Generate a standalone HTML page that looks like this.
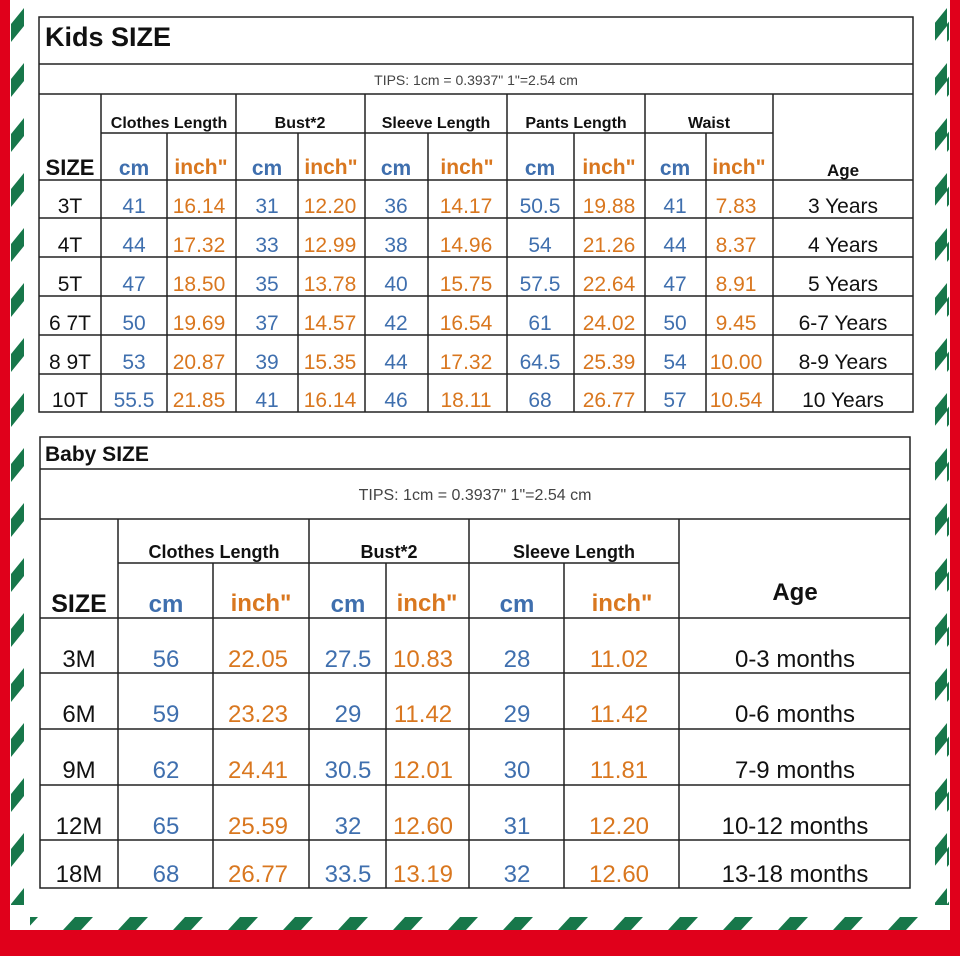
<!DOCTYPE html>
<html><head><meta charset="utf-8"><style>
html,body{margin:0;padding:0;background:#fff;}
svg{display:block;}
text{font-family:"Liberation Sans","DejaVu Sans",sans-serif;}
.t{font-weight:bold;fill:#111;}
.b{fill:#3f6fae;}
.o{fill:#d9771f;}
.k{fill:#111;}
</style></head><body>
<svg width="960" height="956" viewBox="0 0 960 956" xmlns="http://www.w3.org/2000/svg">
<defs>
<pattern id="pl" patternUnits="userSpaceOnUse" x="11" y="0" width="13" height="55">
<polygon points="0,24 13,8 13,26 0,42" fill="#17774a"/>
</pattern>
<pattern id="pb" patternUnits="userSpaceOnUse" x="0" y="917" width="55" height="13">
<polygon points="8,13 26,13 38,0 20,0" fill="#17774a"/>
</pattern>
</defs>
<rect x="0" y="0" width="960" height="956" fill="#fff"/>
<rect x="11" y="0" width="13" height="905" fill="url(#pl)"/>
<rect x="935" y="0" width="14" height="905" fill="url(#pl)"/>
<rect x="30" y="917" width="905" height="13" fill="url(#pb)"/>
<rect x="0" y="0" width="10" height="956" fill="#e0001b"/>
<rect x="950" y="0" width="10" height="956" fill="#e0001b"/>
<rect x="0" y="930" width="960" height="26" fill="#e0001b"/>

<!-- Kids table -->
<g stroke="#222" stroke-width="1.5" fill="none">
<rect x="39" y="17" width="874" height="395"/>
<line x1="39" y1="64" x2="913" y2="64"/>
<line x1="39" y1="94" x2="913" y2="94"/>
<line x1="101" y1="133" x2="773" y2="133"/>
<line x1="39" y1="180" x2="913" y2="180"/>
<line x1="39" y1="218" x2="913" y2="218"/>
<line x1="39" y1="257" x2="913" y2="257"/>
<line x1="39" y1="296" x2="913" y2="296"/>
<line x1="39" y1="335" x2="913" y2="335"/>
<line x1="39" y1="374" x2="913" y2="374"/>
<line x1="101" y1="94" x2="101" y2="412"/>
<line x1="236" y1="94" x2="236" y2="412"/>
<line x1="365" y1="94" x2="365" y2="412"/>
<line x1="507" y1="94" x2="507" y2="412"/>
<line x1="645" y1="94" x2="645" y2="412"/>
<line x1="773" y1="94" x2="773" y2="412"/>
<line x1="167" y1="133" x2="167" y2="412"/>
<line x1="298" y1="133" x2="298" y2="412"/>
<line x1="428" y1="133" x2="428" y2="412"/>
<line x1="574" y1="133" x2="574" y2="412"/>
<line x1="706" y1="133" x2="706" y2="412"/>
</g>
<text x="45" y="46" class="t" font-size="27">Kids SIZE</text>
<text x="476" y="85" font-size="14" fill="#444" text-anchor="middle">TIPS: 1cm = 0.3937"    1"=2.54 cm</text>
<g class="t" font-size="16" text-anchor="middle">
<text x="169" y="128">Clothes Length</text>
<text x="300" y="128">Bust*2</text>
<text x="436" y="128">Sleeve Length</text>
<text x="576" y="128">Pants Length</text>
<text x="709" y="128">Waist</text>
<text x="843" y="176" font-size="17">Age</text>
<text x="70" y="175" font-size="22">SIZE</text>
</g>
<g font-size="21" font-weight="bold" text-anchor="middle">
<text x="134" y="175" class="b">cm</text><text x="201" y="174" class="o">inch"</text>
<text x="267" y="175" class="b">cm</text><text x="331" y="174" class="o">inch"</text>
<text x="396" y="175" class="b">cm</text><text x="467" y="174" class="o">inch"</text>
<text x="540" y="175" class="b">cm</text><text x="609" y="174" class="o">inch"</text>
<text x="675" y="175" class="b">cm</text><text x="739" y="174" class="o">inch"</text>
</g>
<g font-size="21" text-anchor="middle">
<g class="k"><text x="70" y="213">3T</text><text x="70" y="252">4T</text><text x="70" y="291">5T</text><text x="70" y="330">6 7T</text><text x="70" y="369">8 9T</text><text x="70" y="407">10T</text>
<text x="843" y="213">3 Years</text><text x="843" y="252">4 Years</text><text x="843" y="291">5 Years</text><text x="843" y="330">6-7 Years</text><text x="843" y="369">8-9 Years</text><text x="843" y="407">10 Years</text></g>
<g class="b">
<text x="134" y="213">41</text><text x="134" y="252">44</text><text x="134" y="291">47</text><text x="134" y="330">50</text><text x="134" y="369">53</text><text x="134" y="407">55.5</text>
<text x="267" y="213">31</text><text x="267" y="252">33</text><text x="267" y="291">35</text><text x="267" y="330">37</text><text x="267" y="369">39</text><text x="267" y="407">41</text>
<text x="396" y="213">36</text><text x="396" y="252">38</text><text x="396" y="291">40</text><text x="396" y="330">42</text><text x="396" y="369">44</text><text x="396" y="407">46</text>
<text x="540" y="213">50.5</text><text x="540" y="252">54</text><text x="540" y="291">57.5</text><text x="540" y="330">61</text><text x="540" y="369">64.5</text><text x="540" y="407">68</text>
<text x="675" y="213">41</text><text x="675" y="252">44</text><text x="675" y="291">47</text><text x="675" y="330">50</text><text x="675" y="369">54</text><text x="675" y="407">57</text>
</g>
<g class="o">
<text x="199" y="213">16.14</text><text x="199" y="252">17.32</text><text x="199" y="291">18.50</text><text x="199" y="330">19.69</text><text x="199" y="369">20.87</text><text x="199" y="407">21.85</text>
<text x="330" y="213">12.20</text><text x="330" y="252">12.99</text><text x="330" y="291">13.78</text><text x="330" y="330">14.57</text><text x="330" y="369">15.35</text><text x="330" y="407">16.14</text>
<text x="466" y="213">14.17</text><text x="466" y="252">14.96</text><text x="466" y="291">15.75</text><text x="466" y="330">16.54</text><text x="466" y="369">17.32</text><text x="466" y="407">18.11</text>
<text x="609" y="213">19.88</text><text x="609" y="252">21.26</text><text x="609" y="291">22.64</text><text x="609" y="330">24.02</text><text x="609" y="369">25.39</text><text x="609" y="407">26.77</text>
<text x="736" y="213">7.83</text><text x="736" y="252">8.37</text><text x="736" y="291">8.91</text><text x="736" y="330">9.45</text><text x="736" y="369">10.00</text><text x="736" y="407">10.54</text>
</g>
</g>

<!-- Baby table -->
<g stroke="#222" stroke-width="1.5" fill="none">
<rect x="40" y="437" width="870" height="451"/>
<line x1="40" y1="469" x2="910" y2="469"/>
<line x1="40" y1="519" x2="910" y2="519"/>
<line x1="118" y1="563" x2="679" y2="563"/>
<line x1="40" y1="618" x2="910" y2="618"/>
<line x1="40" y1="673" x2="910" y2="673"/>
<line x1="40" y1="729" x2="910" y2="729"/>
<line x1="40" y1="785" x2="910" y2="785"/>
<line x1="40" y1="840" x2="910" y2="840"/>
<line x1="118" y1="519" x2="118" y2="888"/>
<line x1="309" y1="519" x2="309" y2="888"/>
<line x1="469" y1="519" x2="469" y2="888"/>
<line x1="679" y1="519" x2="679" y2="888"/>
<line x1="213" y1="563" x2="213" y2="888"/>
<line x1="386" y1="563" x2="386" y2="888"/>
<line x1="564" y1="563" x2="564" y2="888"/>
</g>
<text x="45" y="461" class="t" font-size="21">Baby SIZE</text>
<text x="475" y="500" font-size="16" fill="#444" text-anchor="middle">TIPS: 1cm = 0.3937"    1"=2.54 cm</text>
<g class="t" font-size="18" text-anchor="middle">
<text x="214" y="558">Clothes Length</text>
<text x="389" y="558">Bust*2</text>
<text x="574" y="558">Sleeve Length</text>
<text x="795" y="600" font-size="24">Age</text>
<text x="79" y="612" font-size="25">SIZE</text>
</g>
<g font-size="24" font-weight="bold" text-anchor="middle">
<text x="166" y="612" class="b">cm</text><text x="261" y="611" class="o">inch"</text>
<text x="348" y="612" class="b">cm</text><text x="427" y="611" class="o">inch"</text>
<text x="517" y="612" class="b">cm</text><text x="622" y="611" class="o">inch"</text>
</g>
<g font-size="24" text-anchor="middle">
<g class="k"><text x="79" y="667">3M</text><text x="79" y="722">6M</text><text x="79" y="778">9M</text><text x="79" y="834">12M</text><text x="79" y="882">18M</text>
<text x="795" y="667">0-3 months</text><text x="795" y="722">0-6 months</text><text x="795" y="778">7-9 months</text><text x="795" y="834">10-12 months</text><text x="795" y="882">13-18 months</text></g>
<g class="b">
<text x="166" y="667">56</text><text x="166" y="722">59</text><text x="166" y="778">62</text><text x="166" y="834">65</text><text x="166" y="882">68</text>
<text x="348" y="667">27.5</text><text x="348" y="722">29</text><text x="348" y="778">30.5</text><text x="348" y="834">32</text><text x="348" y="882">33.5</text>
<text x="517" y="667">28</text><text x="517" y="722">29</text><text x="517" y="778">30</text><text x="517" y="834">31</text><text x="517" y="882">32</text>
</g>
<g class="o">
<text x="258" y="667">22.05</text><text x="258" y="722">23.23</text><text x="258" y="778">24.41</text><text x="258" y="834">25.59</text><text x="258" y="882">26.77</text>
<text x="423" y="667">10.83</text><text x="423" y="722">11.42</text><text x="423" y="778">12.01</text><text x="423" y="834">12.60</text><text x="423" y="882">13.19</text>
<text x="619" y="667">11.02</text><text x="619" y="722">11.42</text><text x="619" y="778">11.81</text><text x="619" y="834">12.20</text><text x="619" y="882">12.60</text>
</g>
</g>
</svg>
</body></html>
